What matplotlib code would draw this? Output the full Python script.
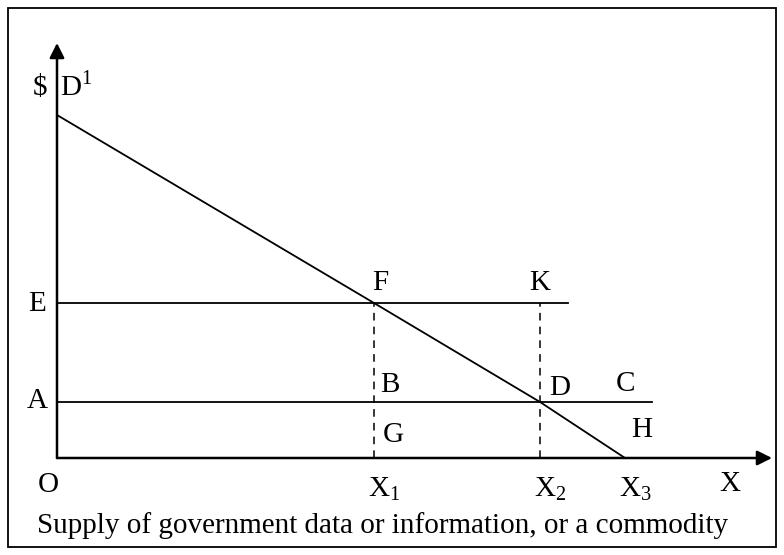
import matplotlib
matplotlib.use("Agg")
import matplotlib.pyplot as plt
from matplotlib.patches import Rectangle

# Quantities on the X axis (origin O = 0)
quantity_labels = ["X1", "X2", "X3"]
quantities = [317, 483, 568]
# Demand curve D1: price at quantity 0, X1, X2, X3
demand_q = [0, 317, 483, 568]
demand_p = [343, 155, 56, 0]
# Price levels
price_E = 155
price_A = 56
line_E_end = 511
line_A_end = 595

plt.rcParams['font.family'] = ['Liberation Serif', 'DejaVu Serif']
fig = plt.figure(figsize=(7.84, 5.55), dpi=100)
ax = fig.add_axes([0, 0, 1, 1])
ax.set_xlim(-57, 727)
ax.set_ylim(-97, 458)
ax.axis('off')

# Outer border
ax.add_patch(Rectangle((-49, -89), 768, 539, fill=False, lw=1.3, ec='black'))

# Axes with arrows
ax.annotate('', xy=(0, 415), xytext=(0, 0),
            arrowprops=dict(arrowstyle='-|>', mutation_scale=22, lw=1.8, color='black', shrinkA=0, shrinkB=0))
ax.annotate('', xy=(715, 0), xytext=(0, 0),
            arrowprops=dict(arrowstyle='-|>', mutation_scale=22, lw=1.8, color='black', shrinkA=0, shrinkB=0))

# Demand curve
ax.plot(demand_q, demand_p, color='black', lw=1.3)
# Price lines
ax.plot([0, line_E_end], [price_E, price_E], color='black', lw=1.3)
ax.plot([0, line_A_end], [price_A, price_A], color='black', lw=1.3)
# Dashed verticals
for q in quantities[:2]:
    ax.plot([q, q], [0, price_E], color='black', lw=1.1, ls=(0, (5, 4)))

fs = 21
def t(x, y, s, ha='center'):
    ax.text(x, y, s, fontsize=fs, ha=ha, va='center')

t(-17, 370, '$')
t(19, 372, r'D$^{\mathregular{1}}$')
t(-20, 154, 'E')
t(-20, 57, 'A')
t(-9, -27, 'O')
t(323, 175, 'F')
t(483, 175, 'K')
t(333, 73, 'B')
t(503, 70, 'D')
t(569, 74, 'C')
t(336, 23, 'G')
t(585, 28, 'H')
for q, lab in zip(quantities, quantity_labels):
    t(q + 10, -31, r'X$_{\mathregular{%s}}$' % lab[1])
t(673, -26, 'X')
ax.text(-20, -68, 'Supply of government data or information, or a commodity',
        fontsize=fs, ha='left', va='center')

fig.savefig('out.png', dpi=100)
